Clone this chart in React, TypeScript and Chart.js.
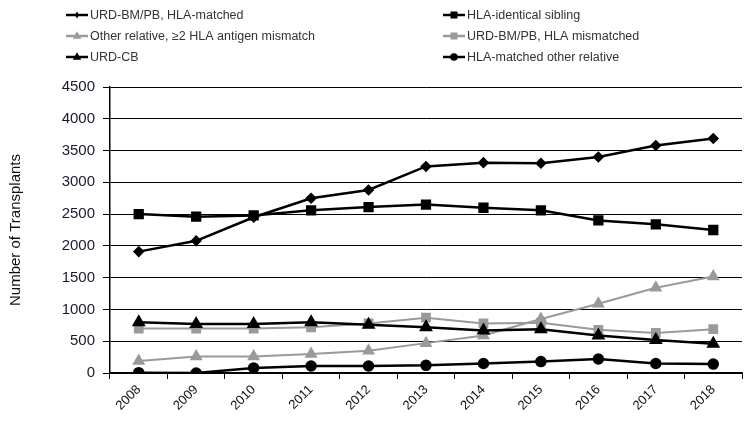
import React, { useEffect, useRef } from "react";
import { Chart, registerables } from "chart.js";

Chart.register(...registerables);

const years = ["2008", "2009", "2010", "2011", "2012", "2013", "2014", "2015", "2016", "2017", "2018"];
const urdMatched = [1910, 2080, 2450, 2750, 2880, 3250, 3310, 3300, 3400, 3580, 3690];
const sibling = [2500, 2460, 2480, 2560, 2610, 2650, 2600, 2560, 2400, 2340, 2250];
const otherRelMismatch = [190, 260, 260, 300, 350, 470, 590, 850, 1090, 1340, 1520];
const urdMismatched = [700, 700, 700, 720, 780, 870, 780, 790, 680, 630, 690];
const urdCB = [800, 770, 770, 800, 760, 720, 670, 690, 590, 520, 460];
const matchedOtherRel = [5, 0, 80, 110, 110, 120, 150, 180, 220, 150, 140];

const yTicks = [0, 500, 1000, 1500, 2000, 2500, 3000, 3500, 4000, 4500];

const BLACK = "#000000";
const GRAY = "#9a9a9a";
const FONT = '"Liberation Sans", Arial, sans-serif';

type Series = { label: string; data: number[]; color: string; style: string; radius: number; width: number };

const series: Series[] = [
  { label: "URD-BM/PB, HLA-matched", data: urdMatched, color: BLACK, style: "rectRot", radius: 4, width: 2.5 },
  { label: "HLA-identical sibling", data: sibling, color: BLACK, style: "rect", radius: 5.5, width: 2.5 },
  { label: "Other relative, \u22652 HLA antigen mismatch", data: otherRelMismatch, color: GRAY, style: "triangle", radius: 5.5, width: 2 },
  { label: "URD-BM/PB, HLA mismatched", data: urdMismatched, color: GRAY, style: "rect", radius: 5.5, width: 2 },
  { label: "URD-CB", data: urdCB, color: BLACK, style: "triangle", radius: 5.5, width: 2.5 },
  { label: "HLA-matched other relative", data: matchedOtherRel, color: BLACK, style: "circle", radius: 4.5, width: 2.5 },
];

function drawMarker(ctx: CanvasRenderingContext2D, style: string, x: number, y: number, r: number) {
  ctx.beginPath();
  if (style === "rect") {
    ctx.rect(x - r * 0.75, y - r * 0.75, r * 1.5, r * 1.5);
  } else if (style === "rectRot") {
    ctx.moveTo(x, y - r);
    ctx.lineTo(x + r * 0.6, y);
    ctx.lineTo(x, y + r);
    ctx.lineTo(x - r * 0.6, y);
    ctx.closePath();
  } else if (style === "triangle") {
    ctx.moveTo(x, y - r);
    ctx.lineTo(x + r * 0.9, y + r * 0.6);
    ctx.lineTo(x - r * 0.9, y + r * 0.6);
    ctx.closePath();
  } else {
    ctx.arc(x, y, r, 0, Math.PI * 2);
  }
  ctx.fill();
}

const legendPlugin = {
  id: "customLegend",
  afterDraw(chart: any) {
    const ctx: CanvasRenderingContext2D = chart.ctx;
    const cols = [66, 443];
    const rows = [15, 36, 57];
    ctx.save();
    series.forEach((s, i) => {
      const x0 = cols[i % 2];
      const y = rows[Math.floor(i / 2)];
      ctx.strokeStyle = s.color;
      ctx.fillStyle = s.color;
      ctx.lineWidth = 2.5;
      ctx.beginPath();
      ctx.moveTo(x0, y);
      ctx.lineTo(x0 + 22, y);
      ctx.stroke();
      drawMarker(ctx, s.style, x0 + 11, y, s.radius * 0.85);
      ctx.fillStyle = "#333333";
      ctx.font = `12.5px ${FONT}`;
      ctx.textAlign = "left";
      ctx.textBaseline = "middle";
      ctx.fillText(s.label, x0 + 24, y + 0.5);
    });
    ctx.restore();
  },
};

export default function App() {
  const ref = useRef<HTMLCanvasElement | null>(null);

  useEffect(() => {
    if (!ref.current) return;
    const chart = new Chart(ref.current, {
      type: "line",
      data: {
        labels: years,
        datasets: series.map((s) => ({
          label: s.label,
          data: s.data,
          borderColor: s.color,
          backgroundColor: s.color,
          pointBackgroundColor: s.color,
          pointBorderColor: s.color,
          pointStyle: s.style as any,
          pointRadius: s.radius,
          borderWidth: s.width,
          tension: 0,
          order: s.color === GRAY ? 1 : 0,
        })),
      },
      options: {
        animation: false,
        responsive: false,
        maintainAspectRatio: false,
        layout: { padding: { top: 87, left: 0, right: 8, bottom: 0 } },
        plugins: {
          legend: { display: false },
          tooltip: { enabled: false },
        },
        scales: {
          x: {
            type: "category",
            offset: true,
            grid: {
              offset: true,
              drawOnChartArea: false,
              drawTicks: true,
              tickLength: 6,
              color: BLACK,
              lineWidth: 1,
            },
            border: { display: true, color: BLACK, width: 1.5 },
            ticks: {
              color: "#111111",
              font: { family: FONT, size: 13 },
              minRotation: 45,
              maxRotation: 45,
              padding: 3,
            },
            afterFit(scale: any) {
              scale.height = 51;
            },
          },
          y: {
            min: 0,
            max: 4500,
            afterBuildTicks(scale: any) {
              scale.ticks = yTicks.map((v) => ({ value: v }));
            },
            grid: {
              color: BLACK,
              lineWidth: 1,
              drawTicks: true,
              tickLength: 7,
            },
            border: { display: true, color: BLACK, width: 1.5 },
            ticks: {
              color: "#1a1a2a",
              font: { family: FONT, size: 15 },
              padding: 8,
              callback: (v: any) => String(v),
            },
            title: {
              display: true,
              text: "Number of Transplants",
              color: "#111111",
              font: { family: FONT, size: 15 },
              padding: { top: 7, bottom: 0 },
            },
            afterFit(scale: any) {
              scale.width = 110;
            },
          },
        },
      },
      plugins: [legendPlugin],
    });
    return () => chart.destroy();
  }, []);

  return (
    <div style={{ position: "fixed", left: 0, top: 0, width: 750, height: 424, background: "#ffffff" }}>
      <canvas ref={ref} width={750} height={424} style={{ width: 750, height: 424, display: "block" }} />
    </div>
  );
}
